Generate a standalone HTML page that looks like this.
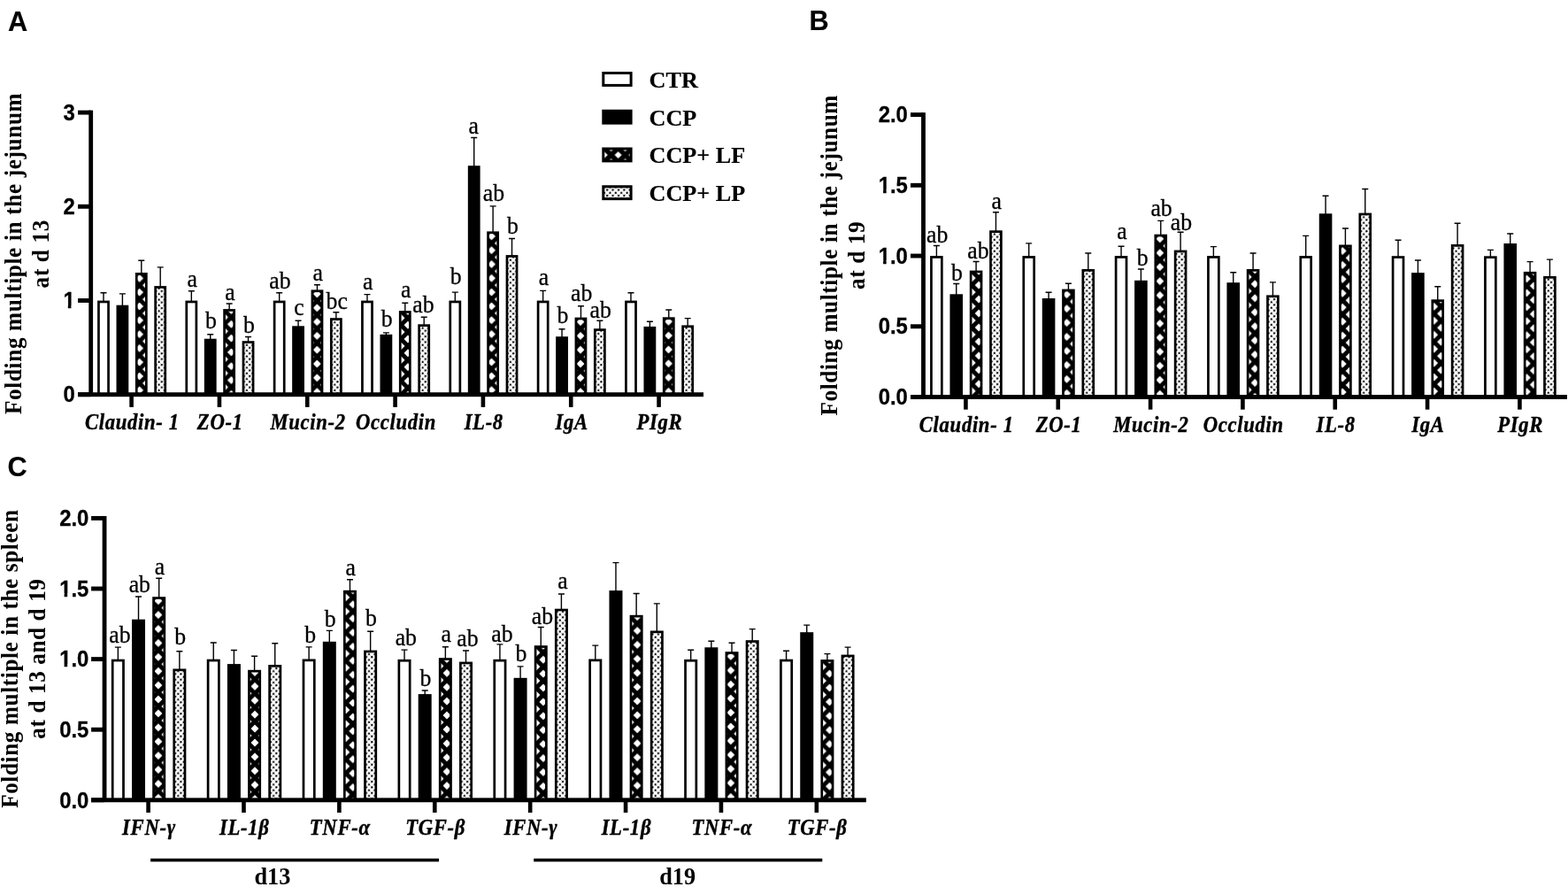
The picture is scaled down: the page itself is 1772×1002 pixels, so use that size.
<!DOCTYPE html>
<html lang="en"><head><meta charset="utf-8"><title>Figure</title>
<style>
html,body{margin:0;padding:0;background:#fff;}
body{width:1772px;height:1002px;overflow:hidden;}
svg{display:block;}
text{fill:#000;stroke:#000;stroke-width:0.15px;}
.y{stroke:none;}
.x{stroke-width:0.4px;letter-spacing:0.72px;}
.l,.t{stroke-width:0.3px;}
.l{font-family:"Liberation Serif", "DejaVu Serif", serif;font-size:27.4px;text-anchor:middle;}
.t{font-family:"Liberation Sans", "DejaVu Sans", sans-serif;font-size:24.9px;font-weight:bold;text-anchor:end;}
.x{font-family:"Liberation Serif", "DejaVu Serif", serif;font-size:24.4px;font-weight:bold;font-style:italic;text-anchor:middle;}
.y{font-family:"Liberation Serif", "DejaVu Serif", serif;font-size:26.3px;font-weight:bold;text-anchor:middle;}
.g{font-family:"Liberation Serif", "DejaVu Serif", serif;font-size:26.2px;font-weight:bold;}
.p{font-family:"Liberation Sans", "DejaVu Sans", sans-serif;font-size:30.7px;font-weight:bold;}
</style></head><body>
<svg width="1772" height="1002" viewBox="0 0 1772 1002" role="img" aria-label="Bar charts of folding multiple in the jejunum and spleen">
<defs>
<pattern id="pA0" width="15.9" height="15.8" patternUnits="userSpaceOnUse" patternTransform="translate(157.6 377.6)">
<rect width="15.9" height="15.8" fill="#000"/><path d="M-4.5 0L0 -4.5L4.5 0L0 4.5ZM11.4 0L15.9 -4.5L20.4 0L15.9 4.5ZM-4.5 15.8L0 11.3L4.5 15.8L0 20.3ZM11.4 15.8L15.9 11.3L20.4 15.8L15.9 20.3ZM3.45 7.9L7.95 3.4L12.45 7.9L7.95 12.4Z" fill="#fff"/></pattern>
<pattern id="pA1" width="15.9" height="15.8" patternUnits="userSpaceOnUse" patternTransform="translate(261.4 382.1)">
<rect width="15.9" height="15.8" fill="#000"/><path d="M-4.5 0L0 -4.5L4.5 0L0 4.5ZM11.4 0L15.9 -4.5L20.4 0L15.9 4.5ZM-4.5 15.8L0 11.3L4.5 15.8L0 20.3ZM11.4 15.8L15.9 11.3L20.4 15.8L15.9 20.3ZM3.45 7.9L7.95 3.4L12.45 7.9L7.95 12.4Z" fill="#fff"/></pattern>
<pattern id="pA2" width="15.9" height="15.8" patternUnits="userSpaceOnUse" patternTransform="translate(358.3 379.4)">
<rect width="15.9" height="15.8" fill="#000"/><path d="M-4.5 0L0 -4.5L4.5 0L0 4.5ZM11.4 0L15.9 -4.5L20.4 0L15.9 4.5ZM-4.5 15.8L0 11.3L4.5 15.8L0 20.3ZM11.4 15.8L15.9 11.3L20.4 15.8L15.9 20.3ZM3.45 7.9L7.95 3.4L12.45 7.9L7.95 12.4Z" fill="#fff"/></pattern>
<pattern id="pA3" width="15.9" height="15.8" patternUnits="userSpaceOnUse" patternTransform="translate(461 383)">
<rect width="15.9" height="15.8" fill="#000"/><path d="M-4.5 0L0 -4.5L4.5 0L0 4.5ZM11.4 0L15.9 -4.5L20.4 0L15.9 4.5ZM-4.5 15.8L0 11.3L4.5 15.8L0 20.3ZM11.4 15.8L15.9 11.3L20.4 15.8L15.9 20.3ZM3.45 7.9L7.95 3.4L12.45 7.9L7.95 12.4Z" fill="#fff"/></pattern>
<pattern id="pA4" width="15.9" height="15.8" patternUnits="userSpaceOnUse" patternTransform="translate(555.5 377.5)">
<rect width="15.9" height="15.8" fill="#000"/><path d="M-4.5 0L0 -4.5L4.5 0L0 4.5ZM11.4 0L15.9 -4.5L20.4 0L15.9 4.5ZM-4.5 15.8L0 11.3L4.5 15.8L0 20.3ZM11.4 15.8L15.9 11.3L20.4 15.8L15.9 20.3ZM3.45 7.9L7.95 3.4L12.45 7.9L7.95 12.4Z" fill="#fff"/></pattern>
<pattern id="pA5" width="15.9" height="15.8" patternUnits="userSpaceOnUse" patternTransform="translate(656 379.4)">
<rect width="15.9" height="15.8" fill="#000"/><path d="M-4.5 0L0 -4.5L4.5 0L0 4.5ZM11.4 0L15.9 -4.5L20.4 0L15.9 4.5ZM-4.5 15.8L0 11.3L4.5 15.8L0 20.3ZM11.4 15.8L15.9 11.3L20.4 15.8L15.9 20.3ZM3.45 7.9L7.95 3.4L12.45 7.9L7.95 12.4Z" fill="#fff"/></pattern>
<pattern id="pA6" width="15.9" height="15.8" patternUnits="userSpaceOnUse" patternTransform="translate(755.5 379.1)">
<rect width="15.9" height="15.8" fill="#000"/><path d="M-4.5 0L0 -4.5L4.5 0L0 4.5ZM11.4 0L15.9 -4.5L20.4 0L15.9 4.5ZM-4.5 15.8L0 11.3L4.5 15.8L0 20.3ZM11.4 15.8L15.9 11.3L20.4 15.8L15.9 20.3ZM3.45 7.9L7.95 3.4L12.45 7.9L7.95 12.4Z" fill="#fff"/></pattern>
<pattern id="pB0" width="16" height="15.95" patternUnits="userSpaceOnUse" patternTransform="translate(1106.2 385.9)">
<rect width="16" height="15.95" fill="#000"/><path d="M-4.5 0L0 -4.5L4.5 0L0 4.5ZM11.5 0L16 -4.5L20.5 0L16 4.5ZM-4.5 15.95L0 11.45L4.5 15.95L0 20.45ZM11.5 15.95L16 11.45L20.5 15.95L16 20.45ZM3.5 7.97L8 3.47L12.5 7.97L8 12.47Z" fill="#fff"/></pattern>
<pattern id="pB1" width="16" height="15.95" patternUnits="userSpaceOnUse" patternTransform="translate(1205.55 380.5)">
<rect width="16" height="15.95" fill="#000"/><path d="M-4.5 0L0 -4.5L4.5 0L0 4.5ZM11.5 0L16 -4.5L20.5 0L16 4.5ZM-4.5 15.95L0 11.45L4.5 15.95L0 20.45ZM11.5 15.95L16 11.45L20.5 15.95L16 20.45ZM3.5 7.97L8 3.47L12.5 7.97L8 12.47Z" fill="#fff"/></pattern>
<pattern id="pB2" width="16" height="15.95" patternUnits="userSpaceOnUse" patternTransform="translate(1310.8 381.4)">
<rect width="16" height="15.95" fill="#000"/><path d="M-4.5 0L0 -4.5L4.5 0L0 4.5ZM11.5 0L16 -4.5L20.5 0L16 4.5ZM-4.5 15.95L0 11.45L4.5 15.95L0 20.45ZM11.5 15.95L16 11.45L20.5 15.95L16 20.45ZM3.5 7.97L8 3.47L12.5 7.97L8 12.47Z" fill="#fff"/></pattern>
<pattern id="pB3" width="16" height="15.95" patternUnits="userSpaceOnUse" patternTransform="translate(1418.2 384.6)">
<rect width="16" height="15.95" fill="#000"/><path d="M-4.5 0L0 -4.5L4.5 0L0 4.5ZM11.5 0L16 -4.5L20.5 0L16 4.5ZM-4.5 15.95L0 11.45L4.5 15.95L0 20.45ZM11.5 15.95L16 11.45L20.5 15.95L16 20.45ZM3.5 7.97L8 3.47L12.5 7.97L8 12.47Z" fill="#fff"/></pattern>
<pattern id="pB4" width="16" height="15.95" patternUnits="userSpaceOnUse" patternTransform="translate(1517.2 379.15)">
<rect width="16" height="15.95" fill="#000"/><path d="M-4.5 0L0 -4.5L4.5 0L0 4.5ZM11.5 0L16 -4.5L20.5 0L16 4.5ZM-4.5 15.95L0 11.45L4.5 15.95L0 20.45ZM11.5 15.95L16 11.45L20.5 15.95L16 20.45ZM3.5 7.97L8 3.47L12.5 7.97L8 12.47Z" fill="#fff"/></pattern>
<pattern id="pB5" width="16" height="15.95" patternUnits="userSpaceOnUse" patternTransform="translate(1620.6 378.25)">
<rect width="16" height="15.95" fill="#000"/><path d="M-4.5 0L0 -4.5L4.5 0L0 4.5ZM11.5 0L16 -4.5L20.5 0L16 4.5ZM-4.5 15.95L0 11.45L4.5 15.95L0 20.45ZM11.5 15.95L16 11.45L20.5 15.95L16 20.45ZM3.5 7.97L8 3.47L12.5 7.97L8 12.47Z" fill="#fff"/></pattern>
<pattern id="pB6" width="16" height="15.95" patternUnits="userSpaceOnUse" patternTransform="translate(1725.3 378.7)">
<rect width="16" height="15.95" fill="#000"/><path d="M-4.5 0L0 -4.5L4.5 0L0 4.5ZM11.5 0L16 -4.5L20.5 0L16 4.5ZM-4.5 15.95L0 11.45L4.5 15.95L0 20.45ZM11.5 15.95L16 11.45L20.5 15.95L16 20.45ZM3.5 7.97L8 3.47L12.5 7.97L8 12.47Z" fill="#fff"/></pattern>
<pattern id="pC0" width="16" height="15.9" patternUnits="userSpaceOnUse" patternTransform="translate(178.9 837.7)">
<rect width="16" height="15.9" fill="#000"/><path d="M-4.5 0L0 -4.5L4.5 0L0 4.5ZM11.5 0L16 -4.5L20.5 0L16 4.5ZM-4.5 15.9L0 11.4L4.5 15.9L0 20.4ZM11.5 15.9L16 11.4L20.5 15.9L16 20.4ZM3.5 7.95L8 3.45L12.5 7.95L8 12.45Z" fill="#fff"/></pattern>
<pattern id="pC1" width="16" height="15.9" patternUnits="userSpaceOnUse" patternTransform="translate(288 838.95)">
<rect width="16" height="15.9" fill="#000"/><path d="M-4.5 0L0 -4.5L4.5 0L0 4.5ZM11.5 0L16 -4.5L20.5 0L16 4.5ZM-4.5 15.9L0 11.4L4.5 15.9L0 20.4ZM11.5 15.9L16 11.4L20.5 15.9L16 20.4ZM3.5 7.95L8 3.45L12.5 7.95L8 12.45Z" fill="#fff"/></pattern>
<pattern id="pC2" width="16" height="15.9" patternUnits="userSpaceOnUse" patternTransform="translate(390.8 833.8)">
<rect width="16" height="15.9" fill="#000"/><path d="M-4.5 0L0 -4.5L4.5 0L0 4.5ZM11.5 0L16 -4.5L20.5 0L16 4.5ZM-4.5 15.9L0 11.4L4.5 15.9L0 20.4ZM11.5 15.9L16 11.4L20.5 15.9L16 20.4ZM3.5 7.95L8 3.45L12.5 7.95L8 12.45Z" fill="#fff"/></pattern>
<pattern id="pC3" width="16" height="15.9" patternUnits="userSpaceOnUse" patternTransform="translate(505 839.85)">
<rect width="16" height="15.9" fill="#000"/><path d="M-4.5 0L0 -4.5L4.5 0L0 4.5ZM11.5 0L16 -4.5L20.5 0L16 4.5ZM-4.5 15.9L0 11.4L4.5 15.9L0 20.4ZM11.5 15.9L16 11.4L20.5 15.9L16 20.4ZM3.5 7.95L8 3.45L12.5 7.95L8 12.45Z" fill="#fff"/></pattern>
<pattern id="pC4" width="16" height="15.9" patternUnits="userSpaceOnUse" patternTransform="translate(613.9 840.6)">
<rect width="16" height="15.9" fill="#000"/><path d="M-4.5 0L0 -4.5L4.5 0L0 4.5ZM11.5 0L16 -4.5L20.5 0L16 4.5ZM-4.5 15.9L0 11.4L4.5 15.9L0 20.4ZM11.5 15.9L16 11.4L20.5 15.9L16 20.4ZM3.5 7.95L8 3.45L12.5 7.95L8 12.45Z" fill="#fff"/></pattern>
<pattern id="pC5" width="16" height="15.9" patternUnits="userSpaceOnUse" patternTransform="translate(720.2 839.7)">
<rect width="16" height="15.9" fill="#000"/><path d="M-4.5 0L0 -4.5L4.5 0L0 4.5ZM11.5 0L16 -4.5L20.5 0L16 4.5ZM-4.5 15.9L0 11.4L4.5 15.9L0 20.4ZM11.5 15.9L16 11.4L20.5 15.9L16 20.4ZM3.5 7.95L8 3.45L12.5 7.95L8 12.45Z" fill="#fff"/></pattern>
<pattern id="pC6" width="16" height="15.9" patternUnits="userSpaceOnUse" patternTransform="translate(825.8 836.8)">
<rect width="16" height="15.9" fill="#000"/><path d="M-4.5 0L0 -4.5L4.5 0L0 4.5ZM11.5 0L16 -4.5L20.5 0L16 4.5ZM-4.5 15.9L0 11.4L4.5 15.9L0 20.4ZM11.5 15.9L16 11.4L20.5 15.9L16 20.4ZM3.5 7.95L8 3.45L12.5 7.95L8 12.45Z" fill="#fff"/></pattern>
<pattern id="pC7" width="16" height="15.9" patternUnits="userSpaceOnUse" patternTransform="translate(937.5 840.6)">
<rect width="16" height="15.9" fill="#000"/><path d="M-4.5 0L0 -4.5L4.5 0L0 4.5ZM11.5 0L16 -4.5L20.5 0L16 4.5ZM-4.5 15.9L0 11.4L4.5 15.9L0 20.4ZM11.5 15.9L16 11.4L20.5 15.9L16 20.4ZM3.5 7.95L8 3.45L12.5 7.95L8 12.45Z" fill="#fff"/></pattern>
<pattern id="pL" width="15.9" height="15.8" patternUnits="userSpaceOnUse" patternTransform="translate(698.6 175.1)">
<rect width="15.9" height="15.8" fill="#000"/><path d="M-4 0L0 -4L4 0L0 4ZM11.9 0L15.9 -4L19.9 0L15.9 4ZM-4 15.8L0 11.8L4 15.8L0 19.8ZM11.9 15.8L15.9 11.8L19.9 15.8L15.9 19.8ZM3.95 7.9L7.95 3.9L11.95 7.9L7.95 11.9Z" fill="#fff"/></pattern>
<pattern id="dA0" width="6.4" height="6.4" patternUnits="userSpaceOnUse" patternTransform="translate(178 445.7)">
<rect width="6.4" height="6.4" fill="#fff"/>
<path d="M1.6 1.6L4.8 4.8M4.8 4.8L8 1.6M4.8 4.8L1.6 8M-1.6 4.8L1.6 1.6" stroke="#000" stroke-opacity="0.28" stroke-width="0.9" fill="none"/>
<circle cx="1.6" cy="1.6" r="1.1"/><circle cx="4.8" cy="4.8" r="1.1"/></pattern>
<pattern id="dA1" width="6.4" height="6.4" patternUnits="userSpaceOnUse" patternTransform="translate(277.33 445.7)">
<rect width="6.4" height="6.4" fill="#fff"/>
<path d="M1.6 1.6L4.8 4.8M4.8 4.8L8 1.6M4.8 4.8L1.6 8M-1.6 4.8L1.6 1.6" stroke="#000" stroke-opacity="0.28" stroke-width="0.9" fill="none"/>
<circle cx="1.6" cy="1.6" r="1.1"/><circle cx="4.8" cy="4.8" r="1.1"/></pattern>
<pattern id="dA2" width="6.4" height="6.4" patternUnits="userSpaceOnUse" patternTransform="translate(376.66 445.7)">
<rect width="6.4" height="6.4" fill="#fff"/>
<path d="M1.6 1.6L4.8 4.8M4.8 4.8L8 1.6M4.8 4.8L1.6 8M-1.6 4.8L1.6 1.6" stroke="#000" stroke-opacity="0.28" stroke-width="0.9" fill="none"/>
<circle cx="1.6" cy="1.6" r="1.1"/><circle cx="4.8" cy="4.8" r="1.1"/></pattern>
<pattern id="dA3" width="6.4" height="6.4" patternUnits="userSpaceOnUse" patternTransform="translate(475.99 445.7)">
<rect width="6.4" height="6.4" fill="#fff"/>
<path d="M1.6 1.6L4.8 4.8M4.8 4.8L8 1.6M4.8 4.8L1.6 8M-1.6 4.8L1.6 1.6" stroke="#000" stroke-opacity="0.28" stroke-width="0.9" fill="none"/>
<circle cx="1.6" cy="1.6" r="1.1"/><circle cx="4.8" cy="4.8" r="1.1"/></pattern>
<pattern id="dA4" width="6.4" height="6.4" patternUnits="userSpaceOnUse" patternTransform="translate(575.32 445.7)">
<rect width="6.4" height="6.4" fill="#fff"/>
<path d="M1.6 1.6L4.8 4.8M4.8 4.8L8 1.6M4.8 4.8L1.6 8M-1.6 4.8L1.6 1.6" stroke="#000" stroke-opacity="0.28" stroke-width="0.9" fill="none"/>
<circle cx="1.6" cy="1.6" r="1.1"/><circle cx="4.8" cy="4.8" r="1.1"/></pattern>
<pattern id="dA5" width="6.4" height="6.4" patternUnits="userSpaceOnUse" patternTransform="translate(674.65 445.7)">
<rect width="6.4" height="6.4" fill="#fff"/>
<path d="M1.6 1.6L4.8 4.8M4.8 4.8L8 1.6M4.8 4.8L1.6 8M-1.6 4.8L1.6 1.6" stroke="#000" stroke-opacity="0.28" stroke-width="0.9" fill="none"/>
<circle cx="1.6" cy="1.6" r="1.1"/><circle cx="4.8" cy="4.8" r="1.1"/></pattern>
<pattern id="dA6" width="6.4" height="6.4" patternUnits="userSpaceOnUse" patternTransform="translate(773.98 445.7)">
<rect width="6.4" height="6.4" fill="#fff"/>
<path d="M1.6 1.6L4.8 4.8M4.8 4.8L8 1.6M4.8 4.8L1.6 8M-1.6 4.8L1.6 1.6" stroke="#000" stroke-opacity="0.28" stroke-width="0.9" fill="none"/>
<circle cx="1.6" cy="1.6" r="1.1"/><circle cx="4.8" cy="4.8" r="1.1"/></pattern>
<pattern id="dB0" width="6.4" height="6.4" patternUnits="userSpaceOnUse" patternTransform="translate(1122.25 448.45)">
<rect width="6.4" height="6.4" fill="#fff"/>
<path d="M1.6 1.6L4.8 4.8M4.8 4.8L8 1.6M4.8 4.8L1.6 8M-1.6 4.8L1.6 1.6" stroke="#000" stroke-opacity="0.28" stroke-width="0.9" fill="none"/>
<circle cx="1.6" cy="1.6" r="1.1"/><circle cx="4.8" cy="4.8" r="1.1"/></pattern>
<pattern id="dB1" width="6.4" height="6.4" patternUnits="userSpaceOnUse" patternTransform="translate(1226.58 448.45)">
<rect width="6.4" height="6.4" fill="#fff"/>
<path d="M1.6 1.6L4.8 4.8M4.8 4.8L8 1.6M4.8 4.8L1.6 8M-1.6 4.8L1.6 1.6" stroke="#000" stroke-opacity="0.28" stroke-width="0.9" fill="none"/>
<circle cx="1.6" cy="1.6" r="1.1"/><circle cx="4.8" cy="4.8" r="1.1"/></pattern>
<pattern id="dB2" width="6.4" height="6.4" patternUnits="userSpaceOnUse" patternTransform="translate(1330.91 448.45)">
<rect width="6.4" height="6.4" fill="#fff"/>
<path d="M1.6 1.6L4.8 4.8M4.8 4.8L8 1.6M4.8 4.8L1.6 8M-1.6 4.8L1.6 1.6" stroke="#000" stroke-opacity="0.28" stroke-width="0.9" fill="none"/>
<circle cx="1.6" cy="1.6" r="1.1"/><circle cx="4.8" cy="4.8" r="1.1"/></pattern>
<pattern id="dB3" width="6.4" height="6.4" patternUnits="userSpaceOnUse" patternTransform="translate(1435.24 448.45)">
<rect width="6.4" height="6.4" fill="#fff"/>
<path d="M1.6 1.6L4.8 4.8M4.8 4.8L8 1.6M4.8 4.8L1.6 8M-1.6 4.8L1.6 1.6" stroke="#000" stroke-opacity="0.28" stroke-width="0.9" fill="none"/>
<circle cx="1.6" cy="1.6" r="1.1"/><circle cx="4.8" cy="4.8" r="1.1"/></pattern>
<pattern id="dB4" width="6.4" height="6.4" patternUnits="userSpaceOnUse" patternTransform="translate(1539.57 448.45)">
<rect width="6.4" height="6.4" fill="#fff"/>
<path d="M1.6 1.6L4.8 4.8M4.8 4.8L8 1.6M4.8 4.8L1.6 8M-1.6 4.8L1.6 1.6" stroke="#000" stroke-opacity="0.28" stroke-width="0.9" fill="none"/>
<circle cx="1.6" cy="1.6" r="1.1"/><circle cx="4.8" cy="4.8" r="1.1"/></pattern>
<pattern id="dB5" width="6.4" height="6.4" patternUnits="userSpaceOnUse" patternTransform="translate(1643.9 448.45)">
<rect width="6.4" height="6.4" fill="#fff"/>
<path d="M1.6 1.6L4.8 4.8M4.8 4.8L8 1.6M4.8 4.8L1.6 8M-1.6 4.8L1.6 1.6" stroke="#000" stroke-opacity="0.28" stroke-width="0.9" fill="none"/>
<circle cx="1.6" cy="1.6" r="1.1"/><circle cx="4.8" cy="4.8" r="1.1"/></pattern>
<pattern id="dB6" width="6.4" height="6.4" patternUnits="userSpaceOnUse" patternTransform="translate(1748.23 448.45)">
<rect width="6.4" height="6.4" fill="#fff"/>
<path d="M1.6 1.6L4.8 4.8M4.8 4.8L8 1.6M4.8 4.8L1.6 8M-1.6 4.8L1.6 1.6" stroke="#000" stroke-opacity="0.28" stroke-width="0.9" fill="none"/>
<circle cx="1.6" cy="1.6" r="1.1"/><circle cx="4.8" cy="4.8" r="1.1"/></pattern>
<pattern id="dC0" width="6.4" height="6.4" patternUnits="userSpaceOnUse" patternTransform="translate(199.66 903.8)">
<rect width="6.4" height="6.4" fill="#fff"/>
<path d="M1.6 1.6L4.8 4.8M4.8 4.8L8 1.6M4.8 4.8L1.6 8M-1.6 4.8L1.6 1.6" stroke="#000" stroke-opacity="0.28" stroke-width="0.9" fill="none"/>
<circle cx="1.6" cy="1.6" r="1.1"/><circle cx="4.8" cy="4.8" r="1.1"/></pattern>
<pattern id="dC1" width="6.4" height="6.4" patternUnits="userSpaceOnUse" patternTransform="translate(307.55 903.8)">
<rect width="6.4" height="6.4" fill="#fff"/>
<path d="M1.6 1.6L4.8 4.8M4.8 4.8L8 1.6M4.8 4.8L1.6 8M-1.6 4.8L1.6 1.6" stroke="#000" stroke-opacity="0.28" stroke-width="0.9" fill="none"/>
<circle cx="1.6" cy="1.6" r="1.1"/><circle cx="4.8" cy="4.8" r="1.1"/></pattern>
<pattern id="dC2" width="6.4" height="6.4" patternUnits="userSpaceOnUse" patternTransform="translate(415.44 903.8)">
<rect width="6.4" height="6.4" fill="#fff"/>
<path d="M1.6 1.6L4.8 4.8M4.8 4.8L8 1.6M4.8 4.8L1.6 8M-1.6 4.8L1.6 1.6" stroke="#000" stroke-opacity="0.28" stroke-width="0.9" fill="none"/>
<circle cx="1.6" cy="1.6" r="1.1"/><circle cx="4.8" cy="4.8" r="1.1"/></pattern>
<pattern id="dC3" width="6.4" height="6.4" patternUnits="userSpaceOnUse" patternTransform="translate(523.33 903.8)">
<rect width="6.4" height="6.4" fill="#fff"/>
<path d="M1.6 1.6L4.8 4.8M4.8 4.8L8 1.6M4.8 4.8L1.6 8M-1.6 4.8L1.6 1.6" stroke="#000" stroke-opacity="0.28" stroke-width="0.9" fill="none"/>
<circle cx="1.6" cy="1.6" r="1.1"/><circle cx="4.8" cy="4.8" r="1.1"/></pattern>
<pattern id="dC4" width="6.4" height="6.4" patternUnits="userSpaceOnUse" patternTransform="translate(631.22 903.8)">
<rect width="6.4" height="6.4" fill="#fff"/>
<path d="M1.6 1.6L4.8 4.8M4.8 4.8L8 1.6M4.8 4.8L1.6 8M-1.6 4.8L1.6 1.6" stroke="#000" stroke-opacity="0.28" stroke-width="0.9" fill="none"/>
<circle cx="1.6" cy="1.6" r="1.1"/><circle cx="4.8" cy="4.8" r="1.1"/></pattern>
<pattern id="dC5" width="6.4" height="6.4" patternUnits="userSpaceOnUse" patternTransform="translate(739.11 903.8)">
<rect width="6.4" height="6.4" fill="#fff"/>
<path d="M1.6 1.6L4.8 4.8M4.8 4.8L8 1.6M4.8 4.8L1.6 8M-1.6 4.8L1.6 1.6" stroke="#000" stroke-opacity="0.28" stroke-width="0.9" fill="none"/>
<circle cx="1.6" cy="1.6" r="1.1"/><circle cx="4.8" cy="4.8" r="1.1"/></pattern>
<pattern id="dC6" width="6.4" height="6.4" patternUnits="userSpaceOnUse" patternTransform="translate(847 903.8)">
<rect width="6.4" height="6.4" fill="#fff"/>
<path d="M1.6 1.6L4.8 4.8M4.8 4.8L8 1.6M4.8 4.8L1.6 8M-1.6 4.8L1.6 1.6" stroke="#000" stroke-opacity="0.28" stroke-width="0.9" fill="none"/>
<circle cx="1.6" cy="1.6" r="1.1"/><circle cx="4.8" cy="4.8" r="1.1"/></pattern>
<pattern id="dC7" width="6.4" height="6.4" patternUnits="userSpaceOnUse" patternTransform="translate(954.89 903.8)">
<rect width="6.4" height="6.4" fill="#fff"/>
<path d="M1.6 1.6L4.8 4.8M4.8 4.8L8 1.6M4.8 4.8L1.6 8M-1.6 4.8L1.6 1.6" stroke="#000" stroke-opacity="0.28" stroke-width="0.9" fill="none"/>
<circle cx="1.6" cy="1.6" r="1.1"/><circle cx="4.8" cy="4.8" r="1.1"/></pattern>
<pattern id="dL" width="6.4" height="6.4" patternUnits="userSpaceOnUse" patternTransform="translate(694.2 216.2)">
<rect width="6.4" height="6.4" fill="#fff"/>
<path d="M1.6 1.6L4.8 4.8M4.8 4.8L8 1.6M4.8 4.8L1.6 8M-1.6 4.8L1.6 1.6" stroke="#000" stroke-opacity="0.28" stroke-width="0.9" fill="none"/>
<circle cx="1.6" cy="1.6" r="1.1"/><circle cx="4.8" cy="4.8" r="1.1"/></pattern>
</defs>
<rect width="1772" height="1002" fill="#fff"/>
<text x="8.9" y="34.6" class="p">A</text>
<text x="914.5" y="34.1" class="p">B</text>
<text x="8.5" y="538.1" class="p">C</text>
<g>
<path d="M117 330.8V340.6M113.5 330.8H120.5" stroke="#000" stroke-width="1.4" fill="none"/>
<rect x="111.45" y="340.95" width="11.1" height="104.75" fill="#fff" stroke="#000" stroke-width="2.7"/>
<path d="M138.4 331.9V345.7M134.9 331.9H141.9" stroke="#000" stroke-width="1.4" fill="none"/>
<rect x="132.85" y="346.05" width="11.1" height="99.65" fill="#000" stroke="#000" stroke-width="2.7"/>
<path d="M159.8 294.2V309M156.3 294.2H163.3" stroke="#000" stroke-width="1.4" fill="none"/>
<rect x="154.25" y="309.35" width="11.1" height="136.35" fill="url(#pA0)" stroke="#000" stroke-width="2.7"/>
<path d="M181.2 301.9V324.1M177.7 301.9H184.7" stroke="#000" stroke-width="1.4" fill="none"/>
<rect x="175.65" y="324.45" width="11.1" height="121.25" fill="url(#dA0)" stroke="#000" stroke-width="2.7"/>
<path d="M216.33 328.8V340.6M212.83 328.8H219.83" stroke="#000" stroke-width="1.4" fill="none"/>
<rect x="210.78" y="340.95" width="11.1" height="104.75" fill="#fff" stroke="#000" stroke-width="2.7"/>
<text transform="translate(217.13 324) scale(0.94 1)" class="l">a</text>
<path d="M237.73 377.8V383.7M234.23 377.8H241.23" stroke="#000" stroke-width="1.4" fill="none"/>
<rect x="232.18" y="384.05" width="11.1" height="61.65" fill="#000" stroke="#000" stroke-width="2.7"/>
<text transform="translate(238.53 370.7) scale(0.94 1)" class="l">b</text>
<path d="M259.13 343V350.1M255.63 343H262.63" stroke="#000" stroke-width="1.4" fill="none"/>
<rect x="253.58" y="350.45" width="11.1" height="95.25" fill="url(#pA1)" stroke="#000" stroke-width="2.7"/>
<text transform="translate(259.93 338.9) scale(0.94 1)" class="l">a</text>
<path d="M280.53 380.5V386.2M277.03 380.5H284.03" stroke="#000" stroke-width="1.4" fill="none"/>
<rect x="274.98" y="386.55" width="11.1" height="59.15" fill="url(#dA1)" stroke="#000" stroke-width="2.7"/>
<text transform="translate(281.33 376.2) scale(0.94 1)" class="l">b</text>
<path d="M315.66 330.8V340.6M312.16 330.8H319.16" stroke="#000" stroke-width="1.4" fill="none"/>
<rect x="310.11" y="340.95" width="11.1" height="104.75" fill="#fff" stroke="#000" stroke-width="2.7"/>
<text transform="translate(316.46 326.1) scale(0.94 1)" class="l">ab</text>
<path d="M337.06 362.2V369.3M333.56 362.2H340.56" stroke="#000" stroke-width="1.4" fill="none"/>
<rect x="331.51" y="369.65" width="11.1" height="76.05" fill="#000" stroke="#000" stroke-width="2.7"/>
<text transform="translate(337.86 355.9) scale(0.94 1)" class="l">c</text>
<path d="M358.46 321.7V328.4M354.96 321.7H361.96" stroke="#000" stroke-width="1.4" fill="none"/>
<rect x="352.91" y="328.75" width="11.1" height="116.95" fill="url(#pA2)" stroke="#000" stroke-width="2.7"/>
<text transform="translate(359.26 317.3) scale(0.94 1)" class="l">a</text>
<path d="M379.86 352.7V360.2M376.36 352.7H383.36" stroke="#000" stroke-width="1.4" fill="none"/>
<rect x="374.31" y="360.55" width="11.1" height="85.15" fill="url(#dA2)" stroke="#000" stroke-width="2.7"/>
<text transform="translate(380.66 349.1) scale(0.94 1)" class="l">bc</text>
<path d="M414.99 332.6V340.6M411.49 332.6H418.49" stroke="#000" stroke-width="1.4" fill="none"/>
<rect x="409.44" y="340.95" width="11.1" height="104.75" fill="#fff" stroke="#000" stroke-width="2.7"/>
<text transform="translate(415.79 327.4) scale(0.94 1)" class="l">a</text>
<path d="M436.39 375.9V378.8M432.89 375.9H439.89" stroke="#000" stroke-width="1.4" fill="none"/>
<rect x="430.84" y="379.15" width="11.1" height="66.55" fill="#000" stroke="#000" stroke-width="2.7"/>
<text transform="translate(437.19 369.4) scale(0.94 1)" class="l">b</text>
<path d="M457.79 342.3V352.1M454.29 342.3H461.29" stroke="#000" stroke-width="1.4" fill="none"/>
<rect x="452.24" y="352.45" width="11.1" height="93.25" fill="url(#pA3)" stroke="#000" stroke-width="2.7"/>
<text transform="translate(458.59 335.8) scale(0.94 1)" class="l">a</text>
<path d="M479.19 358.3V367.3M475.69 358.3H482.69" stroke="#000" stroke-width="1.4" fill="none"/>
<rect x="473.64" y="367.65" width="11.1" height="78.05" fill="url(#dA3)" stroke="#000" stroke-width="2.7"/>
<text transform="translate(478.5 353.3) scale(0.94 1)" class="l">ab</text>
<path d="M514.32 330.1V340.6M510.82 330.1H517.82" stroke="#000" stroke-width="1.4" fill="none"/>
<rect x="508.77" y="340.95" width="11.1" height="104.75" fill="#fff" stroke="#000" stroke-width="2.7"/>
<text transform="translate(515.12 320.7) scale(0.94 1)" class="l">b</text>
<path d="M535.72 155.5V188.2M532.22 155.5H539.22" stroke="#000" stroke-width="1.4" fill="none"/>
<rect x="530.17" y="188.55" width="11.1" height="257.15" fill="#000" stroke="#000" stroke-width="2.7"/>
<text transform="translate(535.2 151) scale(0.94 1)" class="l">a</text>
<path d="M557.12 232.9V262.4M553.62 232.9H560.62" stroke="#000" stroke-width="1.4" fill="none"/>
<rect x="551.57" y="262.75" width="11.1" height="182.95" fill="url(#pA4)" stroke="#000" stroke-width="2.7"/>
<text transform="translate(557.92 227.1) scale(0.94 1)" class="l">ab</text>
<path d="M578.52 269.5V289.1M575.02 269.5H582.02" stroke="#000" stroke-width="1.4" fill="none"/>
<rect x="572.97" y="289.45" width="11.1" height="156.25" fill="url(#dA4)" stroke="#000" stroke-width="2.7"/>
<text transform="translate(579.32 264.1) scale(0.94 1)" class="l">b</text>
<path d="M613.65 328.4V340.6M610.15 328.4H617.15" stroke="#000" stroke-width="1.4" fill="none"/>
<rect x="608.1" y="340.95" width="11.1" height="104.75" fill="#fff" stroke="#000" stroke-width="2.7"/>
<text transform="translate(614.45 322) scale(0.94 1)" class="l">a</text>
<path d="M635.05 371.8V381.2M631.55 371.8H638.55" stroke="#000" stroke-width="1.4" fill="none"/>
<rect x="629.5" y="381.55" width="11.1" height="64.15" fill="#000" stroke="#000" stroke-width="2.7"/>
<text transform="translate(635.85 364.7) scale(0.94 1)" class="l">b</text>
<path d="M656.45 345.7V359.6M652.95 345.7H659.95" stroke="#000" stroke-width="1.4" fill="none"/>
<rect x="650.9" y="359.95" width="11.1" height="85.75" fill="url(#pA5)" stroke="#000" stroke-width="2.7"/>
<text transform="translate(657.25 340.3) scale(0.94 1)" class="l">ab</text>
<path d="M677.85 362.2V372.2M674.35 362.2H681.35" stroke="#000" stroke-width="1.4" fill="none"/>
<rect x="672.3" y="372.55" width="11.1" height="73.15" fill="url(#dA5)" stroke="#000" stroke-width="2.7"/>
<text transform="translate(678.65 359) scale(0.94 1)" class="l">ab</text>
<path d="M712.98 330.8V340.6M709.48 330.8H716.48" stroke="#000" stroke-width="1.4" fill="none"/>
<rect x="707.43" y="340.95" width="11.1" height="104.75" fill="#fff" stroke="#000" stroke-width="2.7"/>
<path d="M734.38 363.3V369.9M730.88 363.3H737.88" stroke="#000" stroke-width="1.4" fill="none"/>
<rect x="728.83" y="370.25" width="11.1" height="75.45" fill="#000" stroke="#000" stroke-width="2.7"/>
<path d="M755.78 350V359.3M752.28 350H759.28" stroke="#000" stroke-width="1.4" fill="none"/>
<rect x="750.23" y="359.65" width="11.1" height="86.05" fill="url(#pA6)" stroke="#000" stroke-width="2.7"/>
<path d="M777.18 359.6V368.4M773.68 359.6H780.68" stroke="#000" stroke-width="1.4" fill="none"/>
<rect x="771.63" y="368.75" width="11.1" height="76.95" fill="url(#dA6)" stroke="#000" stroke-width="2.7"/>
</g>
<g fill="#000">
<rect x="88.05" y="443.25" width="706.95" height="4.9"/>
<rect x="100.3" y="124.65" width="4.8" height="321.05"/>
<rect x="88.05" y="124.65" width="14.65" height="4.9"/>
<rect x="88.05" y="230.85" width="14.65" height="4.9"/>
<rect x="88.05" y="337.05" width="14.65" height="4.9"/>
<rect x="88.05" y="443.25" width="14.65" height="4.9"/>
<rect x="146.3" y="445.7" width="4.6" height="14.2"/>
<rect x="245.63" y="445.7" width="4.6" height="14.2"/>
<rect x="344.96" y="445.7" width="4.6" height="14.2"/>
<rect x="444.29" y="445.7" width="4.6" height="14.2"/>
<rect x="543.62" y="445.7" width="4.6" height="14.2"/>
<rect x="642.95" y="445.7" width="4.6" height="14.2"/>
<rect x="742.28" y="445.7" width="4.6" height="14.2"/>
</g>
<text transform="translate(84.7 135.81) scale(0.96 1)" class="t">3</text>
<text transform="translate(84.7 242.01) scale(0.96 1)" class="t">2</text>
<text transform="translate(84.7 348.21) scale(0.96 1)" class="t">1</text>
<path d="M72 345H76.83V349H72ZM80.41 345H85V349H80.41Z" fill="#fff"/>
<text transform="translate(84.7 454.41) scale(0.96 1)" class="t">0</text>
<text transform="translate(149.43 485.2) scale(0.93 1)" class="x">Claudin- 1</text>
<text transform="translate(248.76 485.2) scale(0.93 1)" class="x">ZO-1</text>
<text transform="translate(348.09 485.2) scale(0.93 1)" class="x">Mucin-2</text>
<text transform="translate(447.42 485.2) scale(0.93 1)" class="x">Occludin</text>
<text transform="translate(546.75 485.2) scale(0.93 1)" class="x">IL-8</text>
<text transform="translate(646.08 485.2) scale(0.93 1)" class="x">IgA</text>
<text transform="translate(745.41 485.2) scale(0.93 1)" class="x">PIgR</text>
<g>
<path d="M1058.4 277.5V290.1M1054.9 277.5H1061.9" stroke="#000" stroke-width="1.4" fill="none"/>
<rect x="1052.45" y="290.45" width="11.9" height="158" fill="#fff" stroke="#000" stroke-width="2.7"/>
<text transform="translate(1059.2 273.8) scale(0.94 1)" class="l">ab</text>
<path d="M1080.75 320.5V333.3M1077.25 320.5H1084.25" stroke="#000" stroke-width="1.4" fill="none"/>
<rect x="1074.8" y="333.65" width="11.9" height="114.8" fill="#000" stroke="#000" stroke-width="2.7"/>
<text transform="translate(1081.55 316.8) scale(0.94 1)" class="l">b</text>
<path d="M1103.1 295.5V306.6M1099.6 295.5H1106.6" stroke="#000" stroke-width="1.4" fill="none"/>
<rect x="1097.15" y="306.95" width="11.9" height="141.5" fill="url(#pB0)" stroke="#000" stroke-width="2.7"/>
<text transform="translate(1105.4 292.1) scale(0.94 1)" class="l">ab</text>
<path d="M1125.45 239.7V261.3M1121.95 239.7H1128.95" stroke="#000" stroke-width="1.4" fill="none"/>
<rect x="1119.5" y="261.65" width="11.9" height="186.8" fill="url(#dB0)" stroke="#000" stroke-width="2.7"/>
<text transform="translate(1126.25 235.5) scale(0.94 1)" class="l">a</text>
<path d="M1162.73 274.9V290.1M1159.23 274.9H1166.23" stroke="#000" stroke-width="1.4" fill="none"/>
<rect x="1156.78" y="290.45" width="11.9" height="158" fill="#fff" stroke="#000" stroke-width="2.7"/>
<path d="M1185.08 330.2V338M1181.58 330.2H1188.58" stroke="#000" stroke-width="1.4" fill="none"/>
<rect x="1179.13" y="338.35" width="11.9" height="110.1" fill="#000" stroke="#000" stroke-width="2.7"/>
<path d="M1207.43 320.3V327.6M1203.93 320.3H1210.93" stroke="#000" stroke-width="1.4" fill="none"/>
<rect x="1201.48" y="327.95" width="11.9" height="120.5" fill="url(#pB1)" stroke="#000" stroke-width="2.7"/>
<path d="M1229.78 286V305M1226.28 286H1233.28" stroke="#000" stroke-width="1.4" fill="none"/>
<rect x="1223.83" y="305.35" width="11.9" height="143.1" fill="url(#dB1)" stroke="#000" stroke-width="2.7"/>
<path d="M1267.06 278.3V290.1M1263.56 278.3H1270.56" stroke="#000" stroke-width="1.4" fill="none"/>
<rect x="1261.11" y="290.45" width="11.9" height="158" fill="#fff" stroke="#000" stroke-width="2.7"/>
<text transform="translate(1267.86 270.4) scale(0.94 1)" class="l">a</text>
<path d="M1289.41 304V317.8M1285.91 304H1292.91" stroke="#000" stroke-width="1.4" fill="none"/>
<rect x="1283.46" y="318.15" width="11.9" height="130.3" fill="#000" stroke="#000" stroke-width="2.7"/>
<text transform="translate(1291.1 299.6) scale(0.94 1)" class="l">b</text>
<path d="M1311.76 249.4V265.7M1308.26 249.4H1315.26" stroke="#000" stroke-width="1.4" fill="none"/>
<rect x="1305.81" y="266.05" width="11.9" height="182.4" fill="url(#pB2)" stroke="#000" stroke-width="2.7"/>
<text transform="translate(1312.56 243.6) scale(0.94 1)" class="l">ab</text>
<path d="M1334.11 262.3V283.6M1330.61 262.3H1337.61" stroke="#000" stroke-width="1.4" fill="none"/>
<rect x="1328.16" y="283.95" width="11.9" height="164.5" fill="url(#dB2)" stroke="#000" stroke-width="2.7"/>
<text transform="translate(1334.91 259.6) scale(0.94 1)" class="l">ab</text>
<path d="M1371.39 278.6V290.1M1367.89 278.6H1374.89" stroke="#000" stroke-width="1.4" fill="none"/>
<rect x="1365.44" y="290.45" width="11.9" height="158" fill="#fff" stroke="#000" stroke-width="2.7"/>
<path d="M1393.74 307.7V320.2M1390.24 307.7H1397.24" stroke="#000" stroke-width="1.4" fill="none"/>
<rect x="1387.79" y="320.55" width="11.9" height="127.9" fill="#000" stroke="#000" stroke-width="2.7"/>
<path d="M1416.09 286V305M1412.59 286H1419.59" stroke="#000" stroke-width="1.4" fill="none"/>
<rect x="1410.14" y="305.35" width="11.9" height="143.1" fill="url(#pB3)" stroke="#000" stroke-width="2.7"/>
<path d="M1438.44 318.9V334.4M1434.94 318.9H1441.94" stroke="#000" stroke-width="1.4" fill="none"/>
<rect x="1432.49" y="334.75" width="11.9" height="113.7" fill="url(#dB3)" stroke="#000" stroke-width="2.7"/>
<path d="M1475.72 266.4V290.1M1472.22 266.4H1479.22" stroke="#000" stroke-width="1.4" fill="none"/>
<rect x="1469.77" y="290.45" width="11.9" height="158" fill="#fff" stroke="#000" stroke-width="2.7"/>
<path d="M1498.07 221.3V242.3M1494.57 221.3H1501.57" stroke="#000" stroke-width="1.4" fill="none"/>
<rect x="1492.12" y="242.65" width="11.9" height="205.8" fill="#000" stroke="#000" stroke-width="2.7"/>
<path d="M1520.42 258V277.5M1516.92 258H1523.92" stroke="#000" stroke-width="1.4" fill="none"/>
<rect x="1514.47" y="277.85" width="11.9" height="170.6" fill="url(#pB4)" stroke="#000" stroke-width="2.7"/>
<path d="M1542.77 213.5V241.6M1539.27 213.5H1546.27" stroke="#000" stroke-width="1.4" fill="none"/>
<rect x="1536.82" y="241.95" width="11.9" height="206.5" fill="url(#dB4)" stroke="#000" stroke-width="2.7"/>
<path d="M1580.05 271.2V290.2M1576.55 271.2H1583.55" stroke="#000" stroke-width="1.4" fill="none"/>
<rect x="1574.1" y="290.55" width="11.9" height="157.9" fill="#fff" stroke="#000" stroke-width="2.7"/>
<path d="M1602.4 294V309.1M1598.9 294H1605.9" stroke="#000" stroke-width="1.4" fill="none"/>
<rect x="1596.45" y="309.45" width="11.9" height="139" fill="#000" stroke="#000" stroke-width="2.7"/>
<path d="M1624.75 323.8V339.3M1621.25 323.8H1628.25" stroke="#000" stroke-width="1.4" fill="none"/>
<rect x="1618.8" y="339.65" width="11.9" height="108.8" fill="url(#pB5)" stroke="#000" stroke-width="2.7"/>
<path d="M1647.1 252.2V277M1643.6 252.2H1650.6" stroke="#000" stroke-width="1.4" fill="none"/>
<rect x="1641.15" y="277.35" width="11.9" height="171.1" fill="url(#dB5)" stroke="#000" stroke-width="2.7"/>
<path d="M1684.38 282.4V290.3M1680.88 282.4H1687.88" stroke="#000" stroke-width="1.4" fill="none"/>
<rect x="1678.43" y="290.65" width="11.9" height="157.8" fill="#fff" stroke="#000" stroke-width="2.7"/>
<path d="M1706.73 264V276M1703.23 264H1710.23" stroke="#000" stroke-width="1.4" fill="none"/>
<rect x="1700.78" y="276.35" width="11.9" height="172.1" fill="#000" stroke="#000" stroke-width="2.7"/>
<path d="M1729.08 295.6V307.9M1725.58 295.6H1732.58" stroke="#000" stroke-width="1.4" fill="none"/>
<rect x="1723.13" y="308.25" width="11.9" height="140.2" fill="url(#pB6)" stroke="#000" stroke-width="2.7"/>
<path d="M1751.43 293.1V313M1747.93 293.1H1754.93" stroke="#000" stroke-width="1.4" fill="none"/>
<rect x="1745.48" y="313.35" width="11.9" height="135.1" fill="url(#dB6)" stroke="#000" stroke-width="2.7"/>
</g>
<g fill="#000">
<rect x="1029" y="446" width="742" height="4.9"/>
<rect x="1041.1" y="127.15" width="4.8" height="321.3"/>
<rect x="1029" y="127.15" width="14.5" height="4.9"/>
<rect x="1029" y="206.85" width="14.5" height="4.9"/>
<rect x="1029" y="286.6" width="14.5" height="4.9"/>
<rect x="1029" y="366.3" width="14.5" height="4.9"/>
<rect x="1029" y="446" width="14.5" height="4.9"/>
<rect x="1089.13" y="448.45" width="4.6" height="14.2"/>
<rect x="1193.46" y="448.45" width="4.6" height="14.2"/>
<rect x="1297.79" y="448.45" width="4.6" height="14.2"/>
<rect x="1402.12" y="448.45" width="4.6" height="14.2"/>
<rect x="1506.45" y="448.45" width="4.6" height="14.2"/>
<rect x="1610.78" y="448.45" width="4.6" height="14.2"/>
<rect x="1715.11" y="448.45" width="4.6" height="14.2"/>
</g>
<text transform="translate(1025.9 138.31) scale(0.96 1)" class="t">2.0</text>
<text transform="translate(1025.9 218.01) scale(0.96 1)" class="t">1.5</text>
<path d="M993 214H998.09V219H993ZM1001.67 214H1007V219H1001.67Z" fill="#fff"/>
<text transform="translate(1025.9 297.76) scale(0.96 1)" class="t">1.0</text>
<path d="M993 294H998.09V299H993ZM1001.67 294H1007V299H1001.67Z" fill="#fff"/>
<text transform="translate(1025.9 377.46) scale(0.96 1)" class="t">0.5</text>
<text transform="translate(1025.9 457.16) scale(0.96 1)" class="t">0.0</text>
<text transform="translate(1092.26 487.8) scale(0.93 1)" class="x">Claudin- 1</text>
<text transform="translate(1196.59 487.8) scale(0.93 1)" class="x">ZO-1</text>
<text transform="translate(1300.92 487.8) scale(0.93 1)" class="x">Mucin-2</text>
<text transform="translate(1405.25 487.8) scale(0.93 1)" class="x">Occludin</text>
<text transform="translate(1509.58 487.8) scale(0.93 1)" class="x">IL-8</text>
<text transform="translate(1613.91 487.8) scale(0.93 1)" class="x">IgA</text>
<text transform="translate(1718.24 487.8) scale(0.93 1)" class="x">PIgR</text>
<g>
<path d="M133.35 731.1V745.7M129.85 731.1H136.85" stroke="#000" stroke-width="1.4" fill="none"/>
<rect x="127.2" y="746.05" width="12.3" height="157.75" fill="#fff" stroke="#000" stroke-width="2.7"/>
<text transform="translate(135.5 726.1) scale(0.94 1)" class="l">ab</text>
<path d="M156.52 674V700.7M153.02 674H160.02" stroke="#000" stroke-width="1.4" fill="none"/>
<rect x="150.37" y="701.05" width="12.3" height="202.75" fill="#000" stroke="#000" stroke-width="2.7"/>
<text transform="translate(157.8 668.8) scale(0.94 1)" class="l">ab</text>
<path d="M179.69 653.3V675.2M176.19 653.3H183.19" stroke="#000" stroke-width="1.4" fill="none"/>
<rect x="173.54" y="675.55" width="12.3" height="228.25" fill="url(#pC0)" stroke="#000" stroke-width="2.7"/>
<text transform="translate(180.49 648.9) scale(0.94 1)" class="l">a</text>
<path d="M202.86 735.8V756.5M199.36 735.8H206.36" stroke="#000" stroke-width="1.4" fill="none"/>
<rect x="196.71" y="756.85" width="12.3" height="146.95" fill="url(#dC0)" stroke="#000" stroke-width="2.7"/>
<text transform="translate(203.66 727.7) scale(0.94 1)" class="l">b</text>
<path d="M241.24 726V745.7M237.74 726H244.74" stroke="#000" stroke-width="1.4" fill="none"/>
<rect x="235.09" y="746.05" width="12.3" height="157.75" fill="#fff" stroke="#000" stroke-width="2.7"/>
<path d="M264.41 734.5V751.1M260.91 734.5H267.91" stroke="#000" stroke-width="1.4" fill="none"/>
<rect x="258.26" y="751.45" width="12.3" height="152.35" fill="#000" stroke="#000" stroke-width="2.7"/>
<path d="M287.58 741.3V757.8M284.08 741.3H291.08" stroke="#000" stroke-width="1.4" fill="none"/>
<rect x="281.43" y="758.15" width="12.3" height="145.65" fill="url(#pC1)" stroke="#000" stroke-width="2.7"/>
<path d="M310.75 726.8V752M307.25 726.8H314.25" stroke="#000" stroke-width="1.4" fill="none"/>
<rect x="304.6" y="752.35" width="12.3" height="151.45" fill="url(#dC1)" stroke="#000" stroke-width="2.7"/>
<path d="M349.13 730.9V745.5M345.63 730.9H352.63" stroke="#000" stroke-width="1.4" fill="none"/>
<rect x="342.98" y="745.85" width="12.3" height="157.95" fill="#fff" stroke="#000" stroke-width="2.7"/>
<text transform="translate(350.6 726.4) scale(0.94 1)" class="l">b</text>
<path d="M372.3 712.4V725.8M368.8 712.4H375.8" stroke="#000" stroke-width="1.4" fill="none"/>
<rect x="366.15" y="726.15" width="12.3" height="177.65" fill="#000" stroke="#000" stroke-width="2.7"/>
<text transform="translate(373.1 707.9) scale(0.94 1)" class="l">b</text>
<path d="M395.47 654.8V667.8M391.97 654.8H398.97" stroke="#000" stroke-width="1.4" fill="none"/>
<rect x="389.32" y="668.15" width="12.3" height="235.65" fill="url(#pC2)" stroke="#000" stroke-width="2.7"/>
<text transform="translate(396.27 649.6) scale(0.94 1)" class="l">a</text>
<path d="M418.64 713.3V735.6M415.14 713.3H422.14" stroke="#000" stroke-width="1.4" fill="none"/>
<rect x="412.49" y="735.95" width="12.3" height="167.85" fill="url(#dC2)" stroke="#000" stroke-width="2.7"/>
<text transform="translate(419.44 707.2) scale(0.94 1)" class="l">b</text>
<path d="M457.02 734.1V745.9M453.52 734.1H460.52" stroke="#000" stroke-width="1.4" fill="none"/>
<rect x="450.87" y="746.25" width="12.3" height="157.55" fill="#fff" stroke="#000" stroke-width="2.7"/>
<text transform="translate(458.8 729) scale(0.94 1)" class="l">ab</text>
<path d="M480.19 780V785.1M476.69 780H483.69" stroke="#000" stroke-width="1.4" fill="none"/>
<rect x="474.04" y="785.45" width="12.3" height="118.35" fill="#000" stroke="#000" stroke-width="2.7"/>
<text transform="translate(480.99 775.2) scale(0.94 1)" class="l">b</text>
<path d="M503.36 730.7V744.2M499.86 730.7H506.86" stroke="#000" stroke-width="1.4" fill="none"/>
<rect x="497.21" y="744.55" width="12.3" height="159.25" fill="url(#pC3)" stroke="#000" stroke-width="2.7"/>
<text transform="translate(504.16 724.5) scale(0.94 1)" class="l">a</text>
<path d="M526.53 735V748.6M523.03 735H530.03" stroke="#000" stroke-width="1.4" fill="none"/>
<rect x="520.38" y="748.95" width="12.3" height="154.85" fill="url(#dC3)" stroke="#000" stroke-width="2.7"/>
<text transform="translate(528.5 730) scale(0.94 1)" class="l">ab</text>
<path d="M564.91 727.9V745.8M561.41 727.9H568.41" stroke="#000" stroke-width="1.4" fill="none"/>
<rect x="558.76" y="746.15" width="12.3" height="157.65" fill="#fff" stroke="#000" stroke-width="2.7"/>
<text transform="translate(567.4 724.5) scale(0.94 1)" class="l">ab</text>
<path d="M588.08 752.9V766.8M584.58 752.9H591.58" stroke="#000" stroke-width="1.4" fill="none"/>
<rect x="581.93" y="767.15" width="12.3" height="136.65" fill="#000" stroke="#000" stroke-width="2.7"/>
<text transform="translate(588.88 746.8) scale(0.94 1)" class="l">b</text>
<path d="M611.25 708.5V730.2M607.75 708.5H614.75" stroke="#000" stroke-width="1.4" fill="none"/>
<rect x="605.1" y="730.55" width="12.3" height="173.25" fill="url(#pC4)" stroke="#000" stroke-width="2.7"/>
<text transform="translate(613 704.9) scale(0.94 1)" class="l">ab</text>
<path d="M634.42 671V688.7M630.92 671H637.92" stroke="#000" stroke-width="1.4" fill="none"/>
<rect x="628.27" y="689.05" width="12.3" height="214.75" fill="url(#dC4)" stroke="#000" stroke-width="2.7"/>
<text transform="translate(636 664.6) scale(0.94 1)" class="l">a</text>
<path d="M672.8 729.1V745.5M669.3 729.1H676.3" stroke="#000" stroke-width="1.4" fill="none"/>
<rect x="666.65" y="745.85" width="12.3" height="157.95" fill="#fff" stroke="#000" stroke-width="2.7"/>
<path d="M695.97 635.6V668.1M692.47 635.6H699.47" stroke="#000" stroke-width="1.4" fill="none"/>
<rect x="689.82" y="668.45" width="12.3" height="235.35" fill="#000" stroke="#000" stroke-width="2.7"/>
<path d="M719.14 670.5V695.8M715.64 670.5H722.64" stroke="#000" stroke-width="1.4" fill="none"/>
<rect x="712.99" y="696.15" width="12.3" height="207.65" fill="url(#pC5)" stroke="#000" stroke-width="2.7"/>
<path d="M742.31 681.9V713.5M738.81 681.9H745.81" stroke="#000" stroke-width="1.4" fill="none"/>
<rect x="736.16" y="713.85" width="12.3" height="189.95" fill="url(#dC5)" stroke="#000" stroke-width="2.7"/>
<path d="M780.69 734.2V745.9M777.19 734.2H784.19" stroke="#000" stroke-width="1.4" fill="none"/>
<rect x="774.54" y="746.25" width="12.3" height="157.55" fill="#fff" stroke="#000" stroke-width="2.7"/>
<path d="M803.86 724.3V732.3M800.36 724.3H807.36" stroke="#000" stroke-width="1.4" fill="none"/>
<rect x="797.71" y="732.65" width="12.3" height="171.15" fill="#000" stroke="#000" stroke-width="2.7"/>
<path d="M827.03 726.3V737.2M823.53 726.3H830.53" stroke="#000" stroke-width="1.4" fill="none"/>
<rect x="820.88" y="737.55" width="12.3" height="166.25" fill="url(#pC6)" stroke="#000" stroke-width="2.7"/>
<path d="M850.2 710.6V724.2M846.7 710.6H853.7" stroke="#000" stroke-width="1.4" fill="none"/>
<rect x="844.05" y="724.55" width="12.3" height="179.25" fill="url(#dC6)" stroke="#000" stroke-width="2.7"/>
<path d="M888.58 735.3V745.7M885.08 735.3H892.08" stroke="#000" stroke-width="1.4" fill="none"/>
<rect x="882.43" y="746.05" width="12.3" height="157.75" fill="#fff" stroke="#000" stroke-width="2.7"/>
<path d="M911.75 706.1V715.2M908.25 706.1H915.25" stroke="#000" stroke-width="1.4" fill="none"/>
<rect x="905.6" y="715.55" width="12.3" height="188.25" fill="#000" stroke="#000" stroke-width="2.7"/>
<path d="M934.92 738.6V746.1M931.42 738.6H938.42" stroke="#000" stroke-width="1.4" fill="none"/>
<rect x="928.77" y="746.45" width="12.3" height="157.35" fill="url(#pC7)" stroke="#000" stroke-width="2.7"/>
<path d="M958.09 731.1V740.6M954.59 731.1H961.59" stroke="#000" stroke-width="1.4" fill="none"/>
<rect x="951.94" y="740.95" width="12.3" height="162.85" fill="url(#dC7)" stroke="#000" stroke-width="2.7"/>
</g>
<g fill="#000">
<rect x="103.1" y="901.35" width="875.7" height="4.9"/>
<rect x="115.65" y="582.95" width="4.8" height="320.85"/>
<rect x="103.1" y="582.95" width="14.95" height="4.9"/>
<rect x="103.1" y="662.55" width="14.95" height="4.9"/>
<rect x="103.1" y="742.15" width="14.95" height="4.9"/>
<rect x="103.1" y="821.75" width="14.95" height="4.9"/>
<rect x="103.1" y="901.35" width="14.95" height="4.9"/>
<rect x="165.3" y="903.8" width="4.6" height="14.2"/>
<rect x="273.19" y="903.8" width="4.6" height="14.2"/>
<rect x="381.08" y="903.8" width="4.6" height="14.2"/>
<rect x="488.97" y="903.8" width="4.6" height="14.2"/>
<rect x="596.87" y="903.8" width="4.6" height="14.2"/>
<rect x="704.76" y="903.8" width="4.6" height="14.2"/>
<rect x="812.65" y="903.8" width="4.6" height="14.2"/>
<rect x="920.54" y="903.8" width="4.6" height="14.2"/>
</g>
<text transform="translate(100.4 594.11) scale(0.96 1)" class="t">2.0</text>
<text transform="translate(100.4 673.71) scale(0.96 1)" class="t">1.5</text>
<path d="M67 670H72.59V675H67ZM76.17 670H81V675H76.17Z" fill="#fff"/>
<text transform="translate(100.4 753.31) scale(0.96 1)" class="t">1.0</text>
<path d="M67 750H72.59V755H67ZM76.17 750H81V755H76.17Z" fill="#fff"/>
<text transform="translate(100.4 832.91) scale(0.96 1)" class="t">0.5</text>
<text transform="translate(100.4 912.51) scale(0.96 1)" class="t">0.0</text>
<text transform="translate(168.44 943.2) scale(0.93 1)" class="x">IFN-γ</text>
<text transform="translate(276.33 943.2) scale(0.93 1)" class="x">IL-1β</text>
<text transform="translate(384.22 943.2) scale(0.93 1)" class="x">TNF-α</text>
<text transform="translate(492.11 943.2) scale(0.93 1)" class="x">TGF-β</text>
<text transform="translate(600 943.2) scale(0.93 1)" class="x">IFN-γ</text>
<text transform="translate(707.89 943.2) scale(0.93 1)" class="x">IL-1β</text>
<text transform="translate(815.78 943.2) scale(0.93 1)" class="x">TNF-α</text>
<text transform="translate(923.67 943.2) scale(0.93 1)" class="x">TGF-β</text>
<text transform="translate(24.4 286.39) rotate(-90) scale(0.95 1)" class="y" style="font-size:26.6px;letter-spacing:0.66px">Folding multiple in the jejunum</text>
<text transform="translate(54.9 286.69) rotate(-90) scale(0.95 1)" class="y" style="font-size:26.6px;letter-spacing:0.66px">at d 13</text>
<text transform="translate(946.2 288.29) rotate(-90) scale(0.95 1)" class="y" style="font-size:26.55px;letter-spacing:0.66px">Folding multiple in the jejunum</text>
<text transform="translate(976.7 288.29) rotate(-90) scale(0.95 1)" class="y" style="font-size:26.55px;letter-spacing:0.66px">at d 19</text>
<text transform="translate(19.8 744.09) rotate(-90) scale(0.95 1)" class="y" style="font-size:26.5px;letter-spacing:0.66px">Folding multiple in the spleen</text>
<text transform="translate(50.6 744.09) rotate(-90) scale(0.95 1)" class="y" style="font-size:26.5px;letter-spacing:0.66px">at d 13 and d 19</text>
<rect x="681.8" y="82.5" width="31.3" height="13.9" fill="#fff" stroke="#000" stroke-width="3"/>
<text x="733.5" y="98.8" class="g">CTR</text>
<rect x="681.8" y="125.25" width="31.3" height="13.9" fill="#000" stroke="#000" stroke-width="3"/>
<text x="733.5" y="141.55" class="g">CCP</text>
<rect x="681.8" y="168" width="31.3" height="13.9" fill="url(#pL)" stroke="#000" stroke-width="3"/>
<text x="733.5" y="184.3" class="g">CCP+ LF</text>
<rect x="681.8" y="210.75" width="31.3" height="13.9" fill="url(#dL)" stroke="#000" stroke-width="3"/>
<text x="733.5" y="227.05" class="g">CCP+ LP</text>
<rect x="170.1" y="969.8" width="325.9" height="3.6" fill="#000"/>
<rect x="603.2" y="969.8" width="326.1" height="3.6" fill="#000"/>
<text x="307.9" y="999.4" class="y">d13</text>
<text x="765.7" y="999.4" class="y">d19</text>
</svg></body></html>
